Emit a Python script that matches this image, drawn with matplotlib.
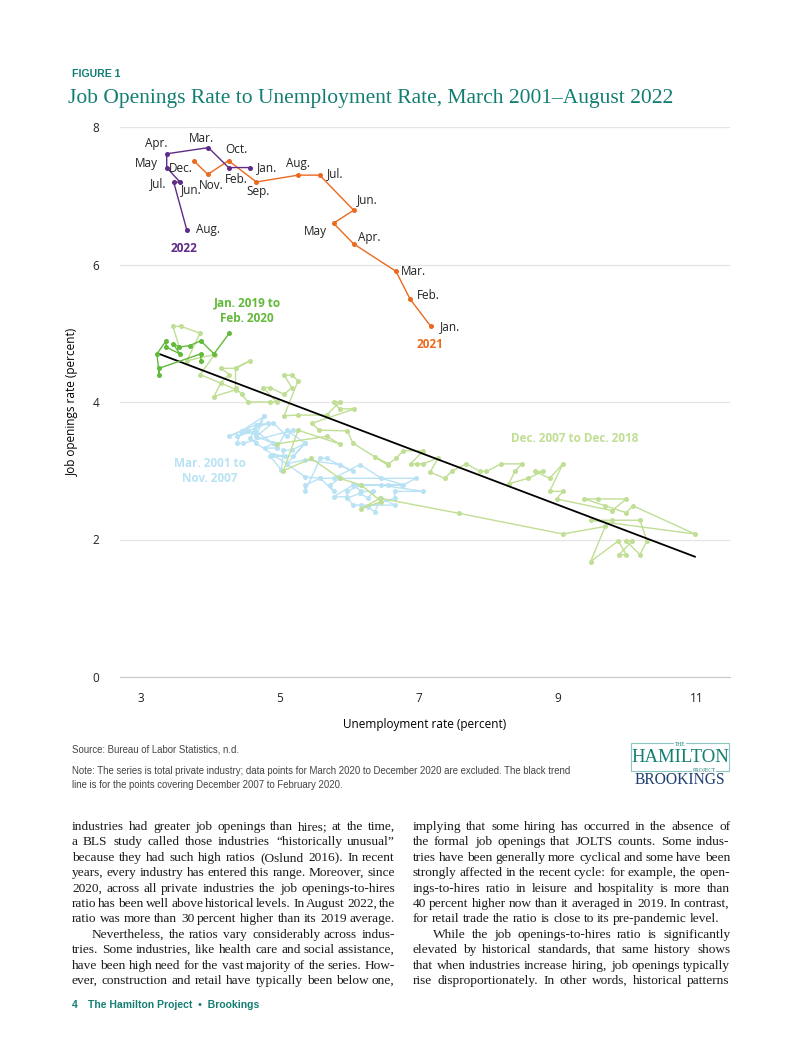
import numpy as np
import matplotlib.pyplot as plt

# ---- data ----
# Mar. 2001 to Nov. 2007 (light blue)
blue_x = [4.77, 4.45, 4.26, 4.66, 4.57, 4.66, 4.90, 5.10, 5.36, 5.58,
          6.96, 6.77, 6.56, 6.05, 6.17, 6.34, 6.27, 6.15, 5.96, 5.96, 6.17, 6.46,
          7.06, 6.65, 6.65, 6.27, 6.36, 6.46, 6.65, 6.17, 6.05, 5.96, 5.77, 6.05,
          6.76, 6.46, 6.15, 5.77, 5.86, 5.72, 5.77, 5.58, 5.36, 5.36, 5.58, 5.67,
          6.05, 5.86, 5.36, 5.10, 5.36, 5.17, 5.05, 5.02, 4.86, 5.07, 4.90, 5.19,
          5.36, 5.10, 4.95, 4.78, 4.90, 4.64, 4.69, 4.83, 4.54, 4.45, 4.38, 4.47,
          5.19, 5.10, 4.90, 4.66, 4.54, 4.38, 4.64, 4.77, 4.66, 4.90, 4.95]
blue_y = [3.79, 3.58, 3.50, 3.67, 3.47, 3.40, 3.23, 3.10, 2.91, 2.89,
          2.89, 2.79, 2.79, 2.79, 2.70, 2.70, 2.60, 2.67, 2.60, 2.70, 2.79, 2.79,
          2.70, 2.70, 2.60, 2.48, 2.40, 2.60, 2.50, 2.50, 2.50, 2.62, 2.62, 2.79,
          2.80, 2.89, 3.09, 2.89, 2.89, 2.79, 2.70, 2.89, 2.79, 2.70, 3.18, 3.18,
          2.99, 3.09, 3.16, 3.10, 3.40, 3.30, 3.30, 3.01, 3.21, 3.21, 3.23, 3.21,
          3.40, 3.59, 3.33, 3.33, 3.40, 3.58, 3.67, 3.69, 3.58, 3.58, 3.40, 3.40,
          3.59, 3.50, 3.70, 3.50, 3.58, 3.50, 3.58, 3.79, 3.50, 3.40, 3.33]

# Dec. 2007 to Dec. 2018 (light green)
lg_x = [4.95, 5.67, 5.86, 5.26, 5.05, 5.45, 5.86, 6.17, 6.46, 6.17, 6.44, 7.58, 9.07,
        9.68, 9.47, 9.87, 9.98, 9.88, 10.07, 9.98, 10.18, 10.28, 10.18, 9.78, 9.47,
        10.97, 10.08, 9.98, 9.68, 9.38, 9.58, 9.98, 9.78, 8.98, 9.07, 8.88, 9.07,
        8.88, 8.67, 8.78, 8.57, 8.29, 8.38, 8.48, 8.18, 7.97, 7.88, 7.68, 7.47,
        7.37, 7.16, 7.28, 7.06, 6.97, 6.88, 7.06, 6.77, 6.67, 6.56, 6.37, 6.56,
        6.05, 5.97, 5.56, 5.46, 6.07, 5.86, 5.77, 5.86, 5.67, 5.26, 5.06,
        5.26, 5.17, 5.06, 5.17, 5.06, 4.86, 4.76, 4.95, 4.86, 4.54, 4.45,
        4.36, 4.36, 4.57, 4.37, 4.15, 4.27, 4.15, 4.05, 4.37, 3.85,
        4.06, 3.66, 3.85, 3.58, 3.46, 3.55]
lg_y = [3.39, 3.50, 3.39, 3.59, 3.00, 3.18, 2.89, 2.79, 2.55, 2.45, 2.60, 2.38, 2.08,
        2.19, 1.68, 1.98, 1.78, 1.78, 1.98, 1.98, 1.78, 1.98, 2.28, 2.28, 2.28,
        2.08, 2.49, 2.39, 2.49, 2.59, 2.59, 2.59, 2.42, 2.59, 2.70, 2.70, 3.10,
        2.89, 2.99, 2.99, 2.89, 2.81, 2.99, 3.10, 3.10, 2.99, 2.99, 3.10, 2.99,
        2.89, 2.98, 3.19, 3.10, 3.10, 3.10, 3.29, 3.29, 3.18, 3.10, 3.20, 3.08,
        3.40, 3.58, 3.59, 3.69, 3.90, 3.90, 4.00, 4.00, 3.81, 3.81, 3.80,
        4.31, 4.39, 4.39, 4.21, 4.11, 4.21, 4.21, 4.00, 4.00, 4.00, 4.11,
        4.21, 4.50, 4.60, 4.49, 4.49, 4.40, 4.28, 4.08, 4.18, 4.40,
        4.69, 4.60, 5.00, 5.10, 5.10, 4.80]

# Jan. 2019 to Feb. 2020 (green)
dg_x = [3.86, 3.86, 3.26, 3.26, 3.23, 3.36, 3.36, 3.56, 3.46, 3.55, 3.70, 3.86, 4.05, 4.27]
dg_y = [4.60, 4.70, 4.49, 4.40, 4.70, 4.89, 4.80, 4.70, 4.85, 4.80, 4.82, 4.89, 4.70, 5.00]

# trend line, Dec. 2007 to Feb. 2020
trend_x = [3.26, 10.97]
trend_y = [4.70, 1.75]

# 2021 (orange), Jan..Dec
y21_x = [7.17, 6.87, 6.67, 6.06, 5.77, 6.06, 5.57, 5.26, 4.66, 4.26, 3.96, 3.76]
y21_y = [5.10, 5.50, 5.90, 6.30, 6.60, 6.79, 7.30, 7.30, 7.20, 7.51, 7.31, 7.51]
y21_lab = ['Jan.', 'Feb.', 'Mar.', 'Apr.', 'May', 'Jun.', 'Jul.', 'Aug.', 'Sep.', 'Oct.', 'Nov.', 'Dec.']

# 2022 (purple), Jan..Aug
y22_x = [4.57, 4.26, 3.97, 3.37, 3.37, 3.56, 3.47, 3.66]
y22_y = [7.41, 7.41, 7.70, 7.61, 7.41, 7.20, 7.20, 6.50]
y22_lab = ['Jan.', 'Feb.', 'Mar.', 'Apr.', 'May', 'Jun.', 'Jul.', 'Aug.']

x_ticks = [3, 5, 7, 9, 11]
y_ticks = [0, 2, 4, 6, 8]

# label offsets in pixels (right, up) from each point
y21_off = [(19, 0), (18, 3), (17, 0), (16, 6), (-18, -8), (14, 11), (16, 2), (0, 12),
           (2, -10), (8, 11), (4, -11), (-13, -8)]
y22_off = [(17, 0), (8, -12), (-7, 9), (-10, 10), (-20, 4), (11, -8), (-15, -2), (21, 1)]

W, H = 802, 1037
TEAL = '#137f73'
BLUE = '#b9e3f5'
LGREEN = '#c0de94'
DGREEN = '#62b93a'
ORANGE = '#ea6a20'
PURPLE = '#5e2b88'
SANS = ['Open Sans', 'DejaVu Sans']
SERIF = ['Liberation Serif', 'DejaVu Serif']


def px(x, y):
    return x / W, 1 - y / H


fig = plt.figure(figsize=(W / 100, H / 100), dpi=100)
ax = fig.add_axes([120 / W, 1 - 677 / H, 610 / W, 550 / H])

mk = dict(marker='o', markersize=3.6, linewidth=1.0)
ax.plot(blue_x, blue_y, color=BLUE, markeredgewidth=0, **mk)
ax.plot(lg_x, lg_y, color=LGREEN, markeredgewidth=0, **mk)
ax.plot(trend_x, trend_y, color='black', linewidth=1.3)
ax.plot(dg_x, dg_y, color=DGREEN, markeredgewidth=0, **mk)
ax.plot(y21_x, y21_y, color=ORANGE, markeredgewidth=0, **mk)
ax.plot(y22_x, y22_y, color=PURPLE, markeredgewidth=0, **mk)

for lab, x, y, off in zip(y21_lab, y21_x, y21_y, y21_off):
    ax.annotate(lab, (x, y), xytext=off, textcoords='offset pixels',
                ha='center', va='center', fontsize=8.5, family=SANS, color='#222222')
for lab, x, y, off in zip(y22_lab, y22_x, y22_y, y22_off):
    ax.annotate(lab, (x, y), xytext=off, textcoords='offset pixels',
                ha='center', va='center', fontsize=8.5, family=SANS, color='#222222')

ax.set_xlim(2.698, 11.475)
ax.set_ylim(0, 8)
ax.set_xticks(x_ticks)
ax.set_yticks(y_ticks)
ax.tick_params(length=0, labelsize=8.5, colors='#222222')
ax.tick_params(axis='y', pad=15)
ax.tick_params(axis='x', pad=11)
for lab in ax.get_xticklabels() + ax.get_yticklabels():
    lab.set_family(SANS)
ax.grid(axis='y', color='#e4e4e4', linewidth=0.9)
ax.set_axisbelow(True)
for s in ['top', 'right', 'left']:
    ax.spines[s].set_visible(False)
ax.spines['bottom'].set_color('#c8c8c8')
ax.set_xlabel('Unemployment rate (percent)', fontsize=8.5, family=SANS, labelpad=9)
ax.set_ylabel('Job openings rate (percent)', fontsize=8.5, family=SANS, labelpad=10)

# series labels
fig.text(*px(247, 311), 'Jan. 2019 to\nFeb. 2020', ha='center', va='center',
         fontsize=8.5, fontweight='bold', color=DGREEN, family=SANS, linespacing=1.25)
fig.text(*px(575, 438), 'Dec. 2007 to Dec. 2018', ha='center', va='center',
         fontsize=8.5, fontweight='bold', color=LGREEN, family=SANS)
fig.text(*px(210, 471), 'Mar. 2001 to\nNov. 2007', ha='center', va='center',
         fontsize=8.5, fontweight='bold', color=BLUE, family=SANS, linespacing=1.25)
fig.text(*px(184, 248), '2022', ha='center', va='center', fontsize=8.5,
         fontweight='bold', color=PURPLE, family=SANS)
fig.text(*px(430, 344), '2021', ha='center', va='center', fontsize=8.5,
         fontweight='bold', color=ORANGE, family=SANS)

# header
fig.text(*px(72, 74), 'FIGURE 1', ha='left', va='center', fontsize=7.6,
         fontweight='bold', color=TEAL, family=['Liberation Sans'])
fig.text(*px(68, 99), 'Job Openings Rate to Unemployment Rate, March 2001\u2013August 2022',
         ha='left', va='center', fontsize=15.5, color=TEAL, family=SERIF)

# source and note
note_kw = dict(ha='left', va='center', fontsize=6.9, color='#444444', family=['Liberation Sans'])
fig.text(*px(72, 750), 'Source: Bureau of Labor Statistics, n.d.', **note_kw)
fig.text(*px(72, 771), 'Note: The series is total private industry; data points for March 2020 to '
         'December 2020 are excluded. The black trend', **note_kw)
fig.text(*px(72, 785), 'line is for the points covering December 2007 to February 2020.', **note_kw)

# logo
fig.patches.append(plt.Rectangle(px(631, 771), 98 / W, 28 / H, transform=fig.transFigure,
                                 fill=False, edgecolor='#8cc8bd', linewidth=0.8))
fig.text(*px(680, 744), 'THE', ha='center', va='center', fontsize=4, color=TEAL, family=SERIF,
         bbox=dict(facecolor='white', edgecolor='none', pad=0.6))
fig.text(*px(680, 757), 'HAMILTON', ha='center', va='center', fontsize=13.5, color=TEAL, family=SERIF)
fig.text(*px(704, 770), 'PROJECT', ha='center', va='center', fontsize=4, color=TEAL, family=SERIF,
         bbox=dict(facecolor='white', edgecolor='none', pad=0.6))
fig.text(*px(680, 780), 'BROOKINGS', ha='center', va='center', fontsize=11.2, color='#1d3f73',
         family=SERIF)

# body text, two justified columns
left_col = [
    ('industries had greater job openings than hires; at the time,', 0, True),
    ('a BLS study called those industries \u201chistorically unusual\u201d', 0, True),
    ('because they had such high ratios (Oslund 2016). In recent', 0, True),
    ('years, every industry has entered this range. Moreover, since', 0, True),
    ('2020, across all private industries the job openings-to-hires', 0, True),
    ('ratio has been well above historical levels. In August 2022, the', 0, True),
    ('ratio was more than 30 percent higher than its 2019 average.', 0, False),
    ('Nevertheless, the ratios vary considerably across indus-', 20, True),
    ('tries. Some industries, like health care and social assistance,', 0, True),
    ('have been high need for the vast majority of the series. How-', 0, True),
    ('ever, construction and retail have typically been below one,', 0, True),
]
right_col = [
    ('implying that some hiring has occurred in the absence of', 0, True),
    ('the formal job openings that JOLTS counts. Some indus-', 0, True),
    ('tries have been generally more cyclical and some have been', 0, True),
    ('strongly affected in the recent cycle: for example, the open-', 0, True),
    ('ings-to-hires ratio in leisure and hospitality is more than', 0, True),
    ('40 percent higher now than it averaged in 2019. In contrast,', 0, True),
    ('for retail trade the ratio is close to its pre-pandemic level.', 0, False),
    ('While the job openings-to-hires ratio is significantly', 20, True),
    ('elevated by historical standards, that same history shows', 0, True),
    ('that when industries increase hiring, job openings typically', 0, True),
    ('rise disproportionately. In other words, historical patterns', 0, True),
]

renderer = fig.canvas.get_renderer()
body_kw = dict(fontsize=9.6, family=SERIF, color='#1a1a1a', va='baseline', ha='left')


def word_width(w):
    t = fig.text(0, 0, w, **body_kw)
    wd = t.get_window_extent(renderer).width
    t.remove()
    return wd


space_w = word_width('a b') - word_width('a') - word_width('b')


def draw_column(lines, x0, x1, y0, dy):
    for i, (line, indent, just) in enumerate(lines):
        words = line.split(' ')
        widths = [word_width(w) for w in words]
        fit_gap = (x1 - x0 - indent - sum(widths)) / max(len(words) - 1, 1)
        gap = fit_gap if just else min(space_w, fit_gap)
        x = x0 + indent
        y = y0 + i * dy
        for w, wd in zip(words, widths):
            fig.text(*px(round(x), y), w, **body_kw)
            x += wd + gap


draw_column(left_col, 72, 395, 830, 15.4)
draw_column(right_col, 413, 730, 830, 15.4)

# footer
fig.text(*px(72, 1005), '4', ha='left', va='center', fontsize=7.5, fontweight='bold',
         color=TEAL, family=['Liberation Sans'])
fig.text(*px(88, 1005), 'The Hamilton Project  \u2022  Brookings', ha='left', va='center',
         fontsize=7.5, fontweight='bold', color=TEAL, family=['Liberation Sans'])

fig.savefig('out.png', dpi=100)
